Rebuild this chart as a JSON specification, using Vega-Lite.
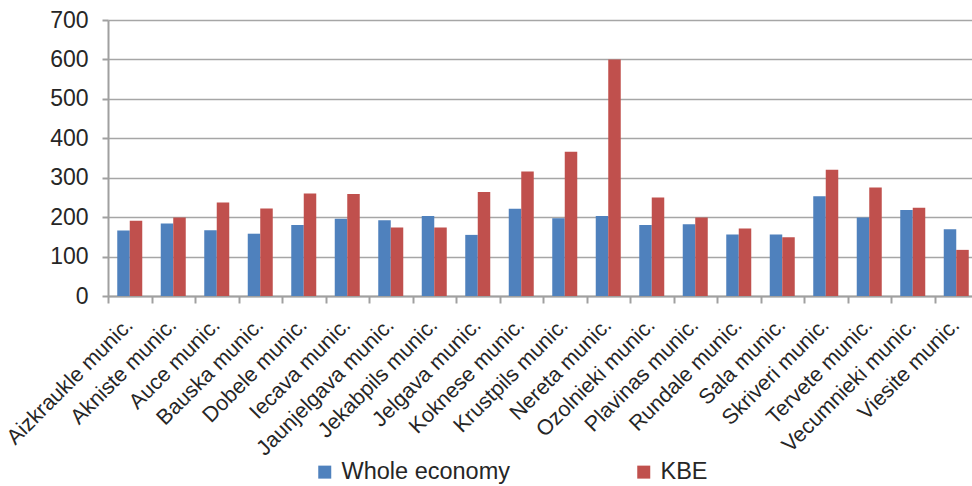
{
  "$schema": "https://vega.github.io/schema/vega-lite/v6.json",
  "autosize": {"type": "none"},
  "padding": {"left": 108, "top": 20, "right": 0, "bottom": 190},
  "width": 870,
  "height": 276,
  "background": "white",
  "config": {
    "view": {"stroke": null},
    "font": "Liberation Sans",
    "axis": {"labelFont": "Liberation Sans", "labelColor": "#262626", "domainColor": "#a0a0a0", "tickColor": "#a0a0a0", "gridColor": "#a6a6a6", "domainWidth": 2, "tickWidth": 2, "gridWidth": 1.6}
  },
  "data": {
    "values": [
      {"m": "Aizkraukle munic.", "s": "Whole economy", "v": 166},
      {"m": "Aizkraukle munic.", "s": "KBE", "v": 191},
      {"m": "Akniste munic.", "s": "Whole economy", "v": 184},
      {"m": "Akniste munic.", "s": "KBE", "v": 199},
      {"m": "Auce munic.", "s": "Whole economy", "v": 167},
      {"m": "Auce munic.", "s": "KBE", "v": 237},
      {"m": "Bauska munic.", "s": "Whole economy", "v": 158},
      {"m": "Bauska munic.", "s": "KBE", "v": 222},
      {"m": "Dobele munic.", "s": "Whole economy", "v": 180},
      {"m": "Dobele munic.", "s": "KBE", "v": 260},
      {"m": "Iecava munic.", "s": "Whole economy", "v": 196},
      {"m": "Iecava munic.", "s": "KBE", "v": 259},
      {"m": "Jaunjelgava munic.", "s": "Whole economy", "v": 192},
      {"m": "Jaunjelgava munic.", "s": "KBE", "v": 174},
      {"m": "Jekabpils munic.", "s": "Whole economy", "v": 203},
      {"m": "Jekabpils munic.", "s": "KBE", "v": 174},
      {"m": "Jelgava munic.", "s": "Whole economy", "v": 155},
      {"m": "Jelgava munic.", "s": "KBE", "v": 264},
      {"m": "Koknese munic.", "s": "Whole economy", "v": 221},
      {"m": "Koknese munic.", "s": "KBE", "v": 316},
      {"m": "Krustpils munic.", "s": "Whole economy", "v": 197},
      {"m": "Krustpils munic.", "s": "KBE", "v": 366},
      {"m": "Nereta munic.", "s": "Whole economy", "v": 203},
      {"m": "Nereta munic.", "s": "KBE", "v": 600},
      {"m": "Ozolnieki munic.", "s": "Whole economy", "v": 180},
      {"m": "Ozolnieki munic.", "s": "KBE", "v": 250},
      {"m": "Plavinas munic.", "s": "Whole economy", "v": 182},
      {"m": "Plavinas munic.", "s": "KBE", "v": 199},
      {"m": "Rundale munic.", "s": "Whole economy", "v": 156},
      {"m": "Rundale munic.", "s": "KBE", "v": 171},
      {"m": "Sala munic.", "s": "Whole economy", "v": 156},
      {"m": "Sala munic.", "s": "KBE", "v": 149},
      {"m": "Skriveri munic.", "s": "Whole economy", "v": 253},
      {"m": "Skriveri munic.", "s": "KBE", "v": 320},
      {"m": "Tervete munic.", "s": "Whole economy", "v": 199},
      {"m": "Tervete munic.", "s": "KBE", "v": 275},
      {"m": "Vecumnieki munic.", "s": "Whole economy", "v": 218},
      {"m": "Vecumnieki munic.", "s": "KBE", "v": 224},
      {"m": "Viesite munic.", "s": "Whole economy", "v": 169},
      {"m": "Viesite munic.", "s": "KBE", "v": 117}
    ]
  },
  "mark": {"type": "bar"},
  "encoding": {
    "x": {
      "field": "m", "type": "nominal", "sort": null, "title": null,
      "scale": {"paddingInner": 0, "paddingOuter": 0},
      "axis": {"labelAngle": -45, "tickBand": "extent", "labelFontSize": 21.5, "tickSize": 7, "labelPadding": 11, "labelOffset": -8, "labelLimit": 300}
    },
    "xOffset": {
      "field": "s", "type": "nominal", "sort": ["Whole economy", "KBE"],
      "scale": {"paddingInner": 0, "paddingOuter": 0.74}
    },
    "y": {
      "field": "v", "type": "quantitative", "title": null,
      "scale": {"domain": [0, 700], "nice": false},
      "axis": {"values": [0, 100, 200, 300, 400, 500, 600, 700], "labelFontSize": 23, "tickSize": 6, "labelPadding": 14, "grid": true}
    },
    "color": {
      "field": "s", "type": "nominal",
      "scale": {"domain": ["Whole economy", "KBE"], "range": ["#4F81BD", "#C0504D"]},
      "legend": {
        "orient": "none", "legendX": 205, "legendY": 440, "direction": "horizontal", "title": null,
        "symbolType": "square", "symbolSize": 169, "symbolStrokeWidth": 0, "labelFontSize": 23.5,
        "labelColor": "#262626", "labelOffset": 5, "columnPadding": 122, "labelFont": "Liberation Sans", "labelLimit": 400
      }
    }
  }
}
